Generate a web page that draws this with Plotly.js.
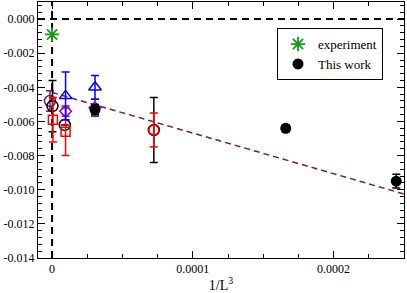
<!DOCTYPE html>
<html>
<head>
<meta charset="utf-8">
<script src="https://cdn.plot.ly/plotly-3.0.1.min.js"></script>
<style>html,body{margin:0;padding:0;background:#fff;overflow:hidden;}#chart{width:407px;height:293px;}#note{position:absolute;left:0;top:0;font:1px monospace;color:transparent;}</style>
</head>
<body>
<div id="chart"></div>
<div id="note"></div>
<script>
// 1/L^3 positions and values
const expX = [0];
const expY = [-0.0009];

const workX = [3.05e-5, 1.66e-4, 2.445e-4];
const workY = [-0.0053, -0.0064, -0.0095];
const workErr = [0.0003, 0.0002, 0.0004];

const blackOpenX = [0.3e-6, 9.0e-6, 7.23e-5];
const blackOpenY = [-0.0051, -0.0062, -0.0065];
const blackOpenErr = [0.0015, 0, 0.0019];

const redSqX = [0.6e-6, 9.6e-6];
const redSqY = [-0.0059, -0.0066];
const redSqErr = [0.0013, 0.0014];

const redCircX = [7.23e-5];
const redCircY = [-0.0065];
const redCircErr = [0.0010];

const blueTriX = [9.6e-6, 3.05e-5];
const blueTriY = [-0.0045, -0.0040];
const blueTriErr = [0.0014, 0.0007];

const violetX = [9.6e-6, 3.05e-5];
const violetY = [-0.0054, -0.0052];
const violetErr = [0.0003, 0.0005];

const maroonX = [-1.5e-6];
const maroonY = [-0.0048];
const maroonErr = [0.0006];

const fitX = [0, 0.00025];
const fitY = [-0.0043, -0.01025];

// dashed reference lines (y = 0 and x = 0)
const zeroHX = [-0.00001, 0.00025];
const zeroHY = [0, 0];
const zeroVX = [0, 0];
const zeroVY = [-0.014, 0.001];

const xTickVals = [0, 0.0001, 0.0002];
const xTickText = ['0', '0.0001', '0.0002'];
const yTickVals = [0, -0.002, -0.004, -0.006, -0.008, -0.010, -0.012, -0.014];
const yTickText = ['0.000', '-0.002', '-0.004', '-0.006', '-0.008', '-0.010', '-0.012', '-0.014'];

function eb(arr, color) {
  return {type: 'data', array: arr, visible: true, color: color, thickness: 1.5, width: 4};
}

const traces = [
  {x: zeroHX, y: zeroHY, mode: 'lines', line: {color: '#000', width: 2, dash: '7px,5px'}, showlegend: false, hoverinfo: 'skip'},
  {x: zeroVX, y: zeroVY, mode: 'lines', line: {color: '#000', width: 2, dash: '7px,5px'}, showlegend: false, hoverinfo: 'skip'},
  {x: fitX, y: fitY, mode: 'lines', line: {color: '#6b1f5c', width: 1.5, dash: '6px,4px'}, showlegend: false, hoverinfo: 'skip'},
  {x: maroonX, y: maroonY, mode: 'markers', error_y: eb(maroonErr, '#6b1f5c'),
   marker: {symbol: 'circle-open', size: 11, color: '#6b1f5c', line: {width: 1.5, color: '#6b1f5c'}}, showlegend: false},
  {x: blackOpenX, y: blackOpenY, mode: 'markers', error_y: eb(blackOpenErr, '#000'),
   marker: {symbol: 'circle-open', size: 11, color: '#000', line: {width: 1.5, color: '#000'}}, showlegend: false},
  {x: redSqX, y: redSqY, mode: 'markers', error_y: eb(redSqErr, '#ff0000'),
   marker: {symbol: 'square-open', size: 9, color: '#ff0000', line: {width: 1.5, color: '#ff0000'}}, showlegend: false},
  {x: redCircX, y: redCircY, mode: 'markers', error_y: eb(redCircErr, '#ff0000'),
   marker: {symbol: 'circle-open', size: 10, color: '#ff0000', line: {width: 1.5, color: '#ff0000'}}, showlegend: false},
  {x: violetX, y: violetY, mode: 'markers', error_y: eb(violetErr, '#9400d3'),
   marker: {symbol: 'diamond-open', size: 9, color: '#9400d3', line: {width: 1.5, color: '#9400d3'}}, showlegend: false},
  {x: blueTriX, y: blueTriY, mode: 'markers', error_y: eb(blueTriErr, '#0000ff'),
   marker: {symbol: 'triangle-up-open', size: 11, color: '#0000ff', line: {width: 1.5, color: '#0000ff'}}, showlegend: false},
  {x: expX, y: expY, mode: 'markers', name: 'experiment',
   marker: {symbol: 'asterisk-open', size: 12, color: '#1a9a1a', line: {width: 1.8, color: '#1a9a1a'}}},
  {x: workX, y: workY, mode: 'markers', name: 'This work', error_y: eb(workErr, '#000'),
   marker: {symbol: 'circle', size: 11, color: '#000'}}
];

const axisCommon = {
  showgrid: false, zeroline: false, showline: true, linecolor: '#000', linewidth: 1,
  mirror: 'allticks', ticks: 'inside', ticklen: 7, tickwidth: 1, tickcolor: '#000',
  automargin: false,
  tickfont: {family: 'Liberation Serif', size: 12, color: '#000'}
};

const layout = {
  width: 407, height: 293, autosize: false,
  margin: {l: 38, r: 3, t: 2, b: 35, autoexpand: false},
  paper_bgcolor: '#fff', plot_bgcolor: '#fff',
  font: {family: 'Liberation Serif', color: '#000'},
  showlegend: true,
  legend: {x: 0.653, y: 0.898, xanchor: 'left', yanchor: 'top', bgcolor: '#fff',
    bordercolor: '#000', borderwidth: 1, font: {family: 'Liberation Serif', size: 13, color: '#000'},
    itemwidth: 30, tracegroupgap: 0},
  xaxis: Object.assign({}, axisCommon, {
    range: [-0.00001, 0.00025], tickmode: 'array', tickvals: xTickVals, ticktext: xTickText,
    minor: {dtick: 0.000025, ticks: 'inside', ticklen: 4, tickcolor: '#000', showgrid: false},
    title: {text: '1/L<sup>3</sup>', font: {family: 'Liberation Serif', size: 14, color: '#000'}, standoff: 2}
  }),
  yaxis: Object.assign({}, axisCommon, {
    range: [-0.014, 0.001], tickmode: 'array', tickvals: yTickVals, ticktext: yTickText,
    minor: {dtick: 0.0004, tick0: 0, ticks: 'inside', ticklen: 4, tickcolor: '#000', showgrid: false}
  })
};

Plotly.newPlot('chart', traces, layout, {displayModeBar: false, staticPlot: true, responsive: false})
  .then(function (gd) {
    return Plotly.relayout(gd, {width: 407, height: 293,
      'margin.l': 38, 'margin.r': 3, 'margin.t': 2, 'margin.b': 35});
  })
  .then(function (gd) {
    document.getElementById('note').textContent = 'ok';
  });
</script>
</body>
</html>
